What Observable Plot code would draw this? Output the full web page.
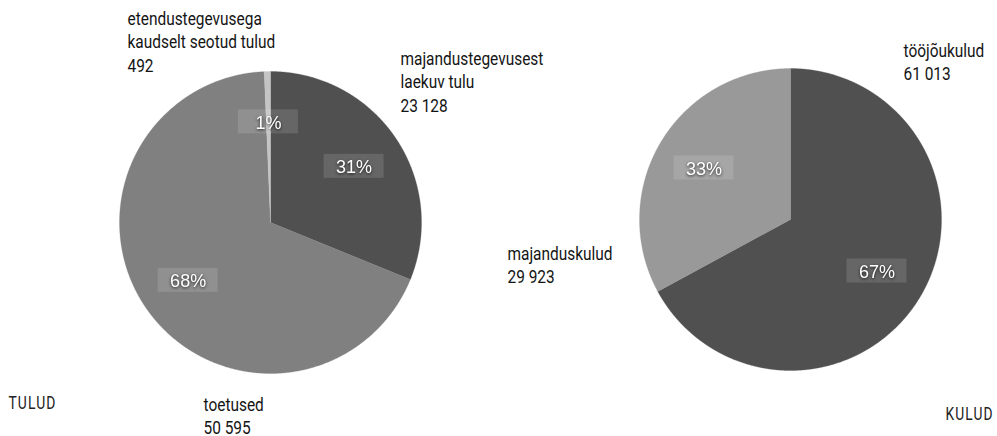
<!DOCTYPE html>
<html>
<head>
<meta charset="utf-8">
<script src="https://cdn.jsdelivr.net/npm/d3@7"></script>
<script src="https://cdn.jsdelivr.net/npm/@observablehq/plot@0.6"></script>
<style>
  html, body { margin: 0; padding: 0; background: #fff; }
  #chart svg { display: block; }
</style>
</head>
<body>
<div id="chart"></div>
<script>
// ---- data ----
const incomeCategories = ["majandustegevusest\nlaekuv tulu", "toetused", "etendustegevusega\nkaudselt seotud tulud"];
const incomeValues = [23128, 50595, 492];
const expenseCategories = ["tööjõukulud", "majanduskulud"];
const expenseValues = [61013, 29923];
const pieTitles = ["TULUD", "KULUD"];

// ---- styling / layout ----
const W = 997, H = 436, R = 151;
const incomeColors = ["#505050", "#808080", "#c4c4c4"];
const expenseColors = ["#505050", "#999999"];
const centersPx = [[270, 222], [790, 219]];
const incomeLabelPos = [[400, 58], [203, 404], [127, 18]];
const expenseLabelPos = [[903, 50], [507, 253]];
const titlePos = [[8, 402, "start"], [993, 413, "end"]];
const lineH = 23.5;

const X = px => (px - centersPx[0][0]) / R;
const Y = py => (centersPx[0][1] - py) / R;

const fmt = d3.formatLocale({thousands: "\u00a0", grouping: [3], decimal: ",", currency: ["", ""]}).format(",d");

function buildPie(values, colors, center) {
  const total = d3.sum(values);
  const arcs = d3.pie().sort(null).startAngle(0).endAngle(2 * Math.PI)(values);
  const cx = X(center[0]), cy = Y(center[1]);
  return arcs.map((a, i) => {
    const pts = [{x: cx, y: cy}];
    const n = Math.max(2, Math.ceil((a.endAngle - a.startAngle) / 0.005));
    for (let k = 0; k <= n; k++) {
      const t = a.startAngle + (a.endAngle - a.startAngle) * k / n;
      pts.push({x: cx + Math.sin(t), y: cy + Math.cos(t)});
    }
    pts.push({x: cx, y: cy});
    const mid = (a.startAngle + a.endAngle) / 2;
    return {
      pts, color: colors[i],
      lx: cx + (2 / 3) * Math.sin(mid), ly: cy + (2 / 3) * Math.cos(mid),
      pct: Math.round(values[i] / total * 100) + "%"
    };
  });
}

const pies = [
  buildPie(incomeValues, incomeColors, centersPx[0]),
  buildPie(expenseValues, expenseColors, centersPx[1])
];

const sliceMarks = pies.flat().map(s =>
  Plot.line(s.pts, {x: "x", y: "y", fill: s.color, stroke: s.color, strokeWidth: 0.3, curve: "linear"})
);

const pctData = pies.flat();
const bw = 30 / R, bh = 12 / R;

const catLines = [];
function addCat(names, values, pos) {
  names.forEach((n, i) => {
    const lines = n.split("\n").concat([fmt(values[i])]);
    lines.forEach((t, j) => catLines.push({text: t, x: X(pos[i][0]), y: Y(pos[i][1] + j * lineH)}));
  });
}
addCat(incomeCategories, incomeValues, incomeLabelPos);
addCat(expenseCategories, expenseValues, expenseLabelPos);

const titles = pieTitles.map((t, i) => ({text: t, x: X(titlePos[i][0]), y: Y(titlePos[i][1]), anchor: titlePos[i][2]}));

const font = "Roboto, 'Liberation Sans', sans-serif";

const chart = Plot.plot({
  width: W, height: H,
  margin: 0, marginTop: 0, marginRight: 0, marginBottom: 0, marginLeft: 0,
  x: {domain: [X(0), X(W)], range: [0, W], axis: null},
  y: {domain: [Y(H), Y(0)], range: [H, 0], axis: null},
  style: {background: "#fff", overflow: "visible"},
  marks: [
    ...sliceMarks,
    Plot.rect(pctData, {x1: d => d.lx - bw, x2: d => d.lx + bw, y1: d => d.ly - bh, y2: d => d.ly + bh, fill: "#ffffff", fillOpacity: 0.13}),
    Plot.text(pctData, {x: "lx", y: "ly", text: "pct", fill: "#fff", fontSize: 18, fontFamily: "'Liberation Sans', Arial, sans-serif", dy: 1}),
    Plot.text(catLines, {x: "x", y: "y", text: "text", textAnchor: "start", lineAnchor: "middle", fill: "#141414", fontSize: 19, fontFamily: font}),
    Plot.text(titles.filter(d => d.anchor === "start"), {x: "x", y: "y", text: "text", textAnchor: "start", lineAnchor: "middle", fill: "#222", fontSize: 19, fontFamily: font}),
    Plot.text(titles.filter(d => d.anchor === "end"), {x: "x", y: "y", text: "text", textAnchor: "end", lineAnchor: "middle", fill: "#222", fontSize: 19, fontFamily: font})
  ]
});

document.getElementById("chart").appendChild(chart);
const svg = d3.select(chart);
const textGroups = svg.selectAll("g[aria-label=text]").nodes();
const [gPct, gCat, gT1, gT2] = textGroups;
d3.select(gPct).selectAll("text").style("filter", "drop-shadow(0px 1px 1.5px rgba(0,0,0,0.75))");
d3.selectAll([gT1, gT2]).selectAll("text").style("letter-spacing", "1.5px");

// condense the label font horizontally (reference uses a condensed face)
let sx = 0.82;
d3.select(gCat).selectAll("text").each(function() {
  if (this.textContent === "majandustegevusest") {
    const len = this.getComputedTextLength();
    if (len > 0) sx = 143 / len;
  }
});
d3.select(gCat).selectAll("text").each(function() {
  const t = this.getAttribute("transform") || "";
  this.setAttribute("transform", t + ` scale(${sx},1)`);
});
d3.selectAll([gT1, gT2]).selectAll("text").each(function() {
  const len = this.getComputedTextLength();
  const s = len > 0 ? 48 / len : 0.75;
  const t = this.getAttribute("transform") || "";
  this.setAttribute("transform", t + ` scale(${s},1)`);
});
</script>
</body>
</html>
